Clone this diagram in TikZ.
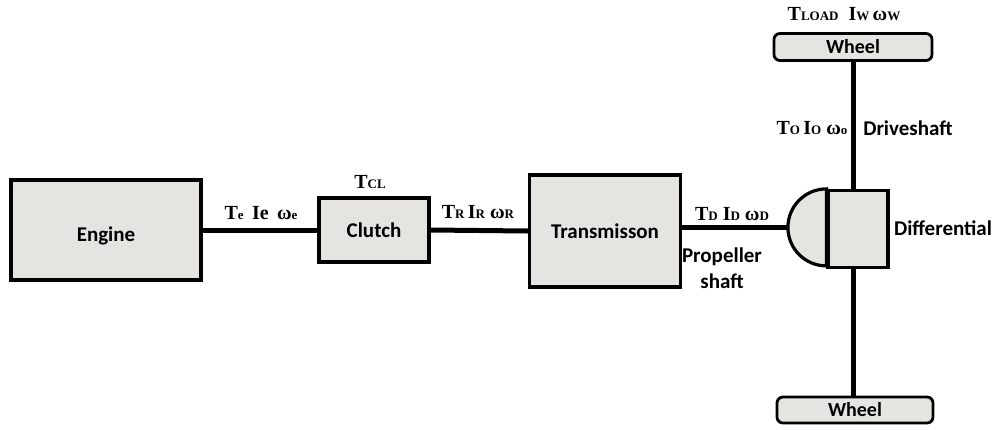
\documentclass[tikz,border=0pt]{standalone}
\usepackage{fontspec}
\setmainfont{Liberation Serif}
\newfontfamily\calib{Carlito}
\newcommand{\sbs}[1]{{\fontsize{13}{14}\selectfont #1}}
\begin{document}
\begin{tikzpicture}[x=1pt,y=-1pt,
  partbox/.style={draw=black,line width=3.2pt,fill=partgray,inner sep=0pt,
    font=\calib\bfseries\fontsize{21}{23}\selectfont},
  wheelbox/.style={partbox,rounded corners=6pt,line width=2.8pt,
    font=\calib\bfseries\fontsize{20}{21}\selectfont},
  shaft/.style={line width=5pt},
  qty/.style={font=\bfseries\fontsize{20}{22}\selectfont,inner sep=0pt},
  lbl/.style={font=\calib\bfseries\fontsize{21}{26}\selectfont,inner sep=0pt,align=center}]
\definecolor{partgray}{RGB}{229,228,225}
\useasboundingbox (0,0) rectangle (998,429);

% drivetrain blocks
\node[partbox,minimum width=190pt,minimum height=100pt] (engine) at (106,230) {};
\node[lbl] (enginelbl) at (106,236) {Engine};
\node[partbox,minimum width=110pt,minimum height=64pt] (clutch) at (374,230) {Clutch};
\node[partbox,minimum width=151pt,minimum height=112pt] (trans) at (605,231) {Transmisson};
\node[partbox,minimum width=60pt,minimum height=77pt] (diff) at (858,229) {};
% rounded input side of the differential
\draw[line width=3.2pt,fill=partgray] (diff.north west) arc[start angle=90,end angle=270,radius=38.5pt] coordinate[pos=0.5] (diffin) -- cycle;
\node[wheelbox,minimum width=158pt,minimum height=27pt] (wtop) at (853,47) {Wheel};
\node[wheelbox,minimum width=156pt,minimum height=26pt] (wbot) at (855,410) {Wheel};

% shafts
\draw[shaft] (engine.east |- clutch.west) -- (clutch.west);
\draw[shaft] (clutch.east) -- (trans.west);
\draw[shaft] (trans.east |- diffin) -- (diffin);
\draw[shaft] (wtop.south) -- (wtop.south |- diff.north);
\draw[shaft] (wtop.south |- diff.south) -- (wtop.south |- wbot.north);

% quantities
\node[qty] (qe) at (261,213) {T\sbs{e}\ \,Ie\ \,ω\sbs{e}};
\node[qty] (qcl) at (370,182) {T\sbs{CL}};
\node[qty] (qr) at (478,212) {T\sbs{R}\,I\sbs{R}\ ω\sbs{R}};
\node[qty] (qd) at (732,214) {T\sbs{D}\ I\sbs{D}\ ω\sbs{D}};
\node[qty] (qo) at (812,128) {T\sbs{O}\,I\sbs{O}\ ω\sbs{o}};
\node[qty] (qw) at (844,14) {T\sbs{LOAD}\ \ I\sbs{W}\,ω\sbs{W}};

% names
\node[lbl] (prop) at (722,268) {Propeller\\shaft};
\node[lbl] (difflbl) at (943,228) {Differential};
\node[lbl] (drv) at (908,128) {Driveshaft};
\end{tikzpicture}
\end{document}
